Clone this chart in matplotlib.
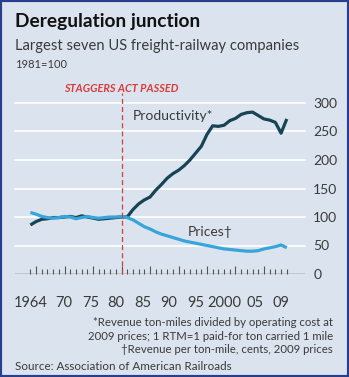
import matplotlib.pyplot as plt
from matplotlib.patches import Rectangle
import matplotlib.transforms as mtransforms

plt.rcParams['font.family'] = ['Lato', 'DejaVu Sans']

# Data (1981=100)
years = list(range(1964, 2010))
productivity = [86, 92, 96, 97, 99, 99, 100, 101, 99, 102,
                100, 98, 96, 97, 98, 99, 100, 100, 113, 123,
                130, 135, 147, 157, 168, 176, 182, 190, 200, 212,
                224, 245, 260, 259, 261, 269, 273, 280, 283, 284,
                278, 272, 270, 266, 247, 272]
prices = [108, 105, 101, 99, 98, 99, 101, 100, 97, 99,
          101, 99, 98, 99, 100, 100, 101, 99, 95, 89,
          83, 79, 74, 70, 67, 64, 61, 58, 56, 54,
          52, 50, 48, 46, 44, 43, 42, 41, 40, 40,
          41, 44, 46, 48, 51, 46]
yticks = [0, 50, 100, 150, 200, 250, 300]
# x labels sit a bit left of their ticks in the original
xlabel_pos = [1964, 1969.8, 1974.6, 1979.0, 1983.7, 1988.3, 1993.0, 1998.1, 2003.5, 2007.9]
xlabel_txt = ['1964', '70', '75', '80', '85', '90', '95', '2000', '05', '09']

bg = '#dbe4ee'
dark = '#174454'
light = '#37a5dc'
red = '#d93a3a'
text_c = '#3a3a3a'

fig = plt.figure(figsize=(3.49, 3.77), dpi=100)
fig.patch.set_facecolor(bg)
fig.patches.append(Rectangle((0, 0), 1, 1, transform=fig.transFigure,
                             fill=False, edgecolor='#2a3e8e', linewidth=3))

W, H = 349, 377
ax = fig.add_axes([15 / W, (H - 274) / H, 290 / W, (274 - 103) / H])
ax.set_facecolor(bg)
ax.set_xlim(1961.3, 2012.2)
ax.set_ylim(0, 300)
for s in ax.spines.values():
    s.set_visible(False)

for v in yticks[1:]:
    ax.axhline(v, color='white', lw=1.2, zorder=1, clip_on=False)
ax.axhline(0, color='#555555', lw=1.0, zorder=2)

ax.set_yticks(yticks)
ax.yaxis.tick_right()
ax.tick_params(axis='y', length=0, pad=6, labelsize=10, labelcolor=text_c)

# year ticks, taller every five years
ax.set_xticks(list(range(1965, 2010, 5)))
ax.set_xticks(years, minor=True)
ax.set_xticklabels([])
ax.tick_params(axis='x', which='major', direction='in', length=6, width=0.8, color='#555555')
ax.tick_params(axis='x', which='minor', direction='in', length=3.5, width=0.8, color='#555555')

trans = mtransforms.blended_transform_factory(ax.transData, ax.transAxes)
for p, t in zip(xlabel_pos, xlabel_txt):
    ax.text(p, -0.17, t, transform=trans, ha='center', va='center',
            fontsize=10.5, color=text_c, clip_on=False)

ax.plot(years, prices, color=light, lw=2.3, zorder=4, solid_capstyle='butt')
ax.plot(years, productivity, color=dark, lw=2.3, zorder=3, solid_capstyle='butt')

ax.plot([1980, 1980], [0, 317], color=red, lw=0.9, ls=(0, (4, 2.5)),
        zorder=5, clip_on=False)
ax.text(1980, 326, 'STAGGERS ACT PASSED', ha='center', va='center',
        fontsize=7.8, color=red, style='italic', fontweight='bold', clip_on=False)

ax.text(1982, 277, 'Productivity*', ha='left', va='center', fontsize=10, color=text_c)
ax.text(1991.6, 74, 'Prices\u2020', ha='left', va='center', fontsize=10, color=text_c)

fig.text(15 / W, 1 - 22 / H, 'Deregulation junction', fontsize=13.8,
         fontweight='bold', color='#111111', ha='left', va='center')
fig.text(15 / W, 1 - 46 / H, 'Largest seven US freight-railway companies',
         fontsize=10.6, color=text_c, ha='left', va='center')
fig.text(15 / W, 1 - 65 / H, '1981=100', fontsize=8, color=text_c,
         ha='left', va='center')

notes = ['*Revenue ton-miles divided by operating cost at',
         '2009 prices; 1 RTM=1 paid-for ton carried 1 mile',
         '\u2020Revenue per ton-mile, cents, 2009 prices']
for i, n in enumerate(notes):
    fig.text(333 / W, 1 - (323 + i * 13.3) / H, n, fontsize=8.2, color=text_c,
             ha='right', va='center')
fig.text(15 / W, 1 - 366 / H, 'Source: Association of American Railroads',
         fontsize=8.4, color=text_c, ha='left', va='center')

fig.savefig('out.png', dpi=100, facecolor=bg)
